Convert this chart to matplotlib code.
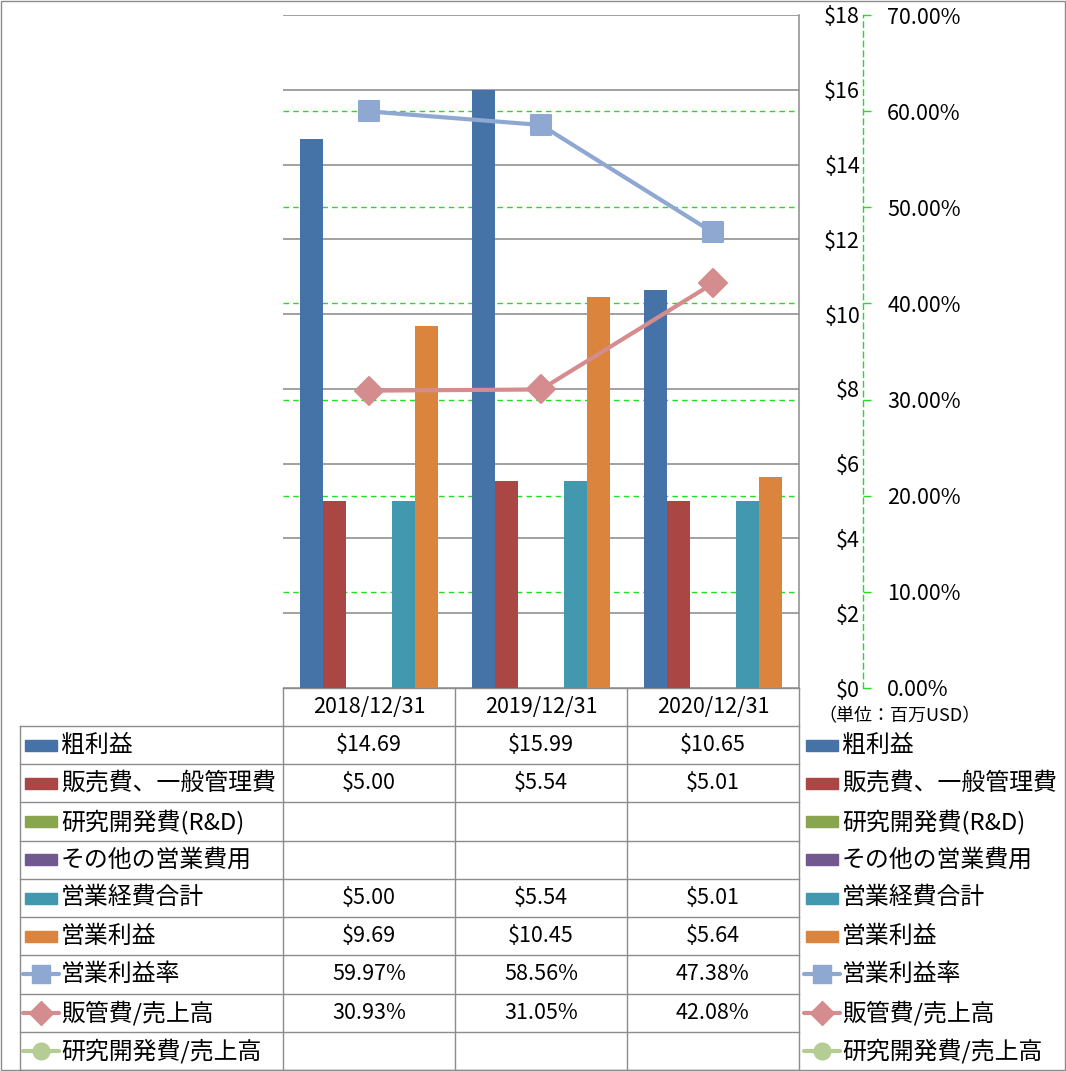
import numpy as np
import matplotlib
matplotlib.use('Agg')
import matplotlib.pyplot as plt
from matplotlib.patches import Rectangle
from matplotlib.markers import MarkerStyle

plt.rcParams['font.family'] = ['Noto Sans CJK JP', 'DejaVu Sans']

# data
dates = ['2018/12/31', '2019/12/31', '2020/12/31']
gross_profit = [14.69, 15.99, 10.65]
sga = [5.00, 5.54, 5.01]
rnd = [np.nan, np.nan, np.nan]
other_opex = [np.nan, np.nan, np.nan]
total_opex = [5.00, 5.54, 5.01]
operating_income = [9.69, 10.45, 5.64]
op_margin = [0.5997, 0.5856, 0.4738]
sga_ratio = [0.3093, 0.3105, 0.4208]
rnd_ratio = [np.nan, np.nan, np.nan]

bar_names = ['粗利益', '販売費、一般管理費', '研究開発費(R&D)', 'その他の営業費用', '営業経費合計', '営業利益']
bar_values = [gross_profit, sga, rnd, other_opex, total_opex, operating_income]
bar_colors = ['#4572A7', '#AA4643', '#89A54E', '#71588F', '#4198AF', '#DB843D']

line_names = ['営業利益率', '販管費/売上高', '研究開発費/売上高']
line_values = [op_margin, sga_ratio, rnd_ratio]
line_colors = ['#8FA8D2', '#D58C8F', '#B5CC94']
line_markers = ['s', 'D', 'o']

money_ticks = np.arange(0, 19, 2)
pct_ticks = np.arange(0, 0.71, 0.1)

W, H = 1066, 1071
fig = plt.figure(figsize=(W / 100, H / 100), dpi=100)
rect = [283 / W, 1 - 688 / H, (799 - 283) / W, (688 - 15) / H]

# percent gridlines behind everything
ax_g = fig.add_axes(rect, zorder=0)
ax_g.set_ylim(0, 0.7)
ax_g.set_xlim(-0.5, 2.5)
ax_g.set_yticks(pct_ticks[1:-1])
ax_g.grid(axis='y', color='#22DD22', linestyle=(0, (4, 3)), linewidth=1)
ax_g.tick_params(left=False, bottom=False, labelleft=False, labelbottom=False)
for s in ax_g.spines.values():
    s.set_visible(False)

# bars
ax = fig.add_axes(rect, zorder=1)
ax.patch.set_visible(False)
x = np.arange(len(dates))
bw = 0.1337
for i, (vals, col) in enumerate(zip(bar_values, bar_colors)):
    vals = np.array(vals, dtype=float)
    ok = ~np.isnan(vals)
    ax.bar(x[ok] + (i - 2.5) * bw, vals[ok], width=bw, color=col, zorder=3)
ax.set_xlim(-0.5, 2.5)
ax.set_ylim(0, 18)
ax.tick_params(axis='x', bottom=False, labelbottom=False)
ax.grid(axis='y', color='#878787', linewidth=1.1)
ax.set_axisbelow(True)
for k in ['left', 'top', 'bottom']:
    ax.spines[k].set_visible(False)
ax.spines['right'].set_color('#8C8C8C')
ax.spines['right'].set_linewidth(1.1)

# ratio lines
ax2 = ax.twinx()
ax2.set_zorder(2)
for vals, col, mk in zip(line_values, line_colors, line_markers):
    ax2.plot(x, vals, color=col, linewidth=3,
             marker=MarkerStyle(mk, joinstyle='round'), markersize=15 if mk == 's' else 14,
             markerfacecolor=col, markeredgecolor=col, markeredgewidth=1.5)
ax2.set_ylim(0, 0.7)
ax2.set_yticks(pct_ticks)
ax2.set_yticklabels(['%.2f%%' % (v * 100) for v in pct_ticks])
ax2.tick_params(axis='y', direction='out', length=6, width=1, color='#22DD22',
                pad=11.5, labelsize=15.5)
for k in ['left', 'top', 'bottom']:
    ax2.spines[k].set_visible(False)
ax2.spines['right'].set_position(('outward', 46))
ax2.spines['right'].set_color('#22DD22')
ax2.spines['right'].set_linestyle((0, (4, 3)))
ax2.spines['right'].set_linewidth(1)

# money labels sit between the plot and the percent axis (after twinx, which resets sides)
ax.yaxis.tick_right()
ax.set_yticks(money_ticks)
ax.set_yticklabels(['$%d' % v for v in money_ticks], ha='right')
ax.tick_params(axis='y', length=0, pad=44, labelsize=15.5, left=False, labelleft=False)

# data table and legends, in pixel coordinates
tab = fig.add_axes([0, 0, 1, 1], zorder=-1)
tab.set_xlim(0, W)
tab.set_ylim(H, 0)
tab.axis('off')
grey = '#8C8C8C'
tab.add_patch(Rectangle((0.5, 0.5), W - 1.5, H - 1.5, fill=False, edgecolor=grey, lw=1))

col_edges = [283, 455, 627, 799]
top_row = 688
row_top = 726
n_rows = len(bar_names) + len(line_names)
row_h = (1070 - row_top) / n_rows
tab.plot([283, 799], [top_row, top_row], color=grey, lw=1)
for cx in col_edges:
    tab.plot([cx, cx], [top_row, 1070], color=grey, lw=1)
tab.plot([20, 20], [row_top, 1070], color=grey, lw=1)
for r in range(n_rows + 1):
    yy = row_top + r * row_h
    tab.plot([20, 799], [yy, yy], color=grey, lw=1)

for j, d in enumerate(dates):
    tab.text((col_edges[j] + col_edges[j + 1]) / 2, (top_row + row_top) / 2, d,
             ha='center', va='center', fontsize=15.5)

tab.text(818, 716, '（単位：百万USD）', ha='left', va='center', fontsize=13)


def legend_key(x0, yc, kind, col, mk=None):
    if kind == 'bar':
        tab.add_patch(Rectangle((x0, yc - 5.5), 32, 11, color=col))
    else:
        tab.plot([x0 - 2, x0 + 34], [yc, yc], color=col, lw=3, solid_capstyle='round')
        tab.plot([x0 + 16], [yc], marker=MarkerStyle(mk, joinstyle='round'),
                 markersize=13 if mk == 's' else 12, color=col)


entries = [('bar', n, v, c, None) for n, v, c in zip(bar_names, bar_values, bar_colors)]
entries += [('line', n, v, c, m) for n, v, c, m in zip(line_names, line_values, line_colors, line_markers)]

for r, (kind, name, vals, col, mk) in enumerate(entries):
    yc = row_top + (r + 0.5) * row_h
    legend_key(25, yc, kind, col, mk)
    tab.text(61, yc, name, ha='left', va='center', fontsize=17.2)
    legend_key(806, yc, kind, col, mk)
    tab.text(842, yc, name, ha='left', va='center', fontsize=17.2)
    for j, v in enumerate(vals):
        if np.isnan(v):
            continue
        s = '$%.2f' % v if kind == 'bar' else '%.2f%%' % (v * 100)
        tab.text((col_edges[j] + col_edges[j + 1]) / 2, yc, s,
                 ha='center', va='center', fontsize=15.5)

fig.savefig('out.png', dpi=100)
